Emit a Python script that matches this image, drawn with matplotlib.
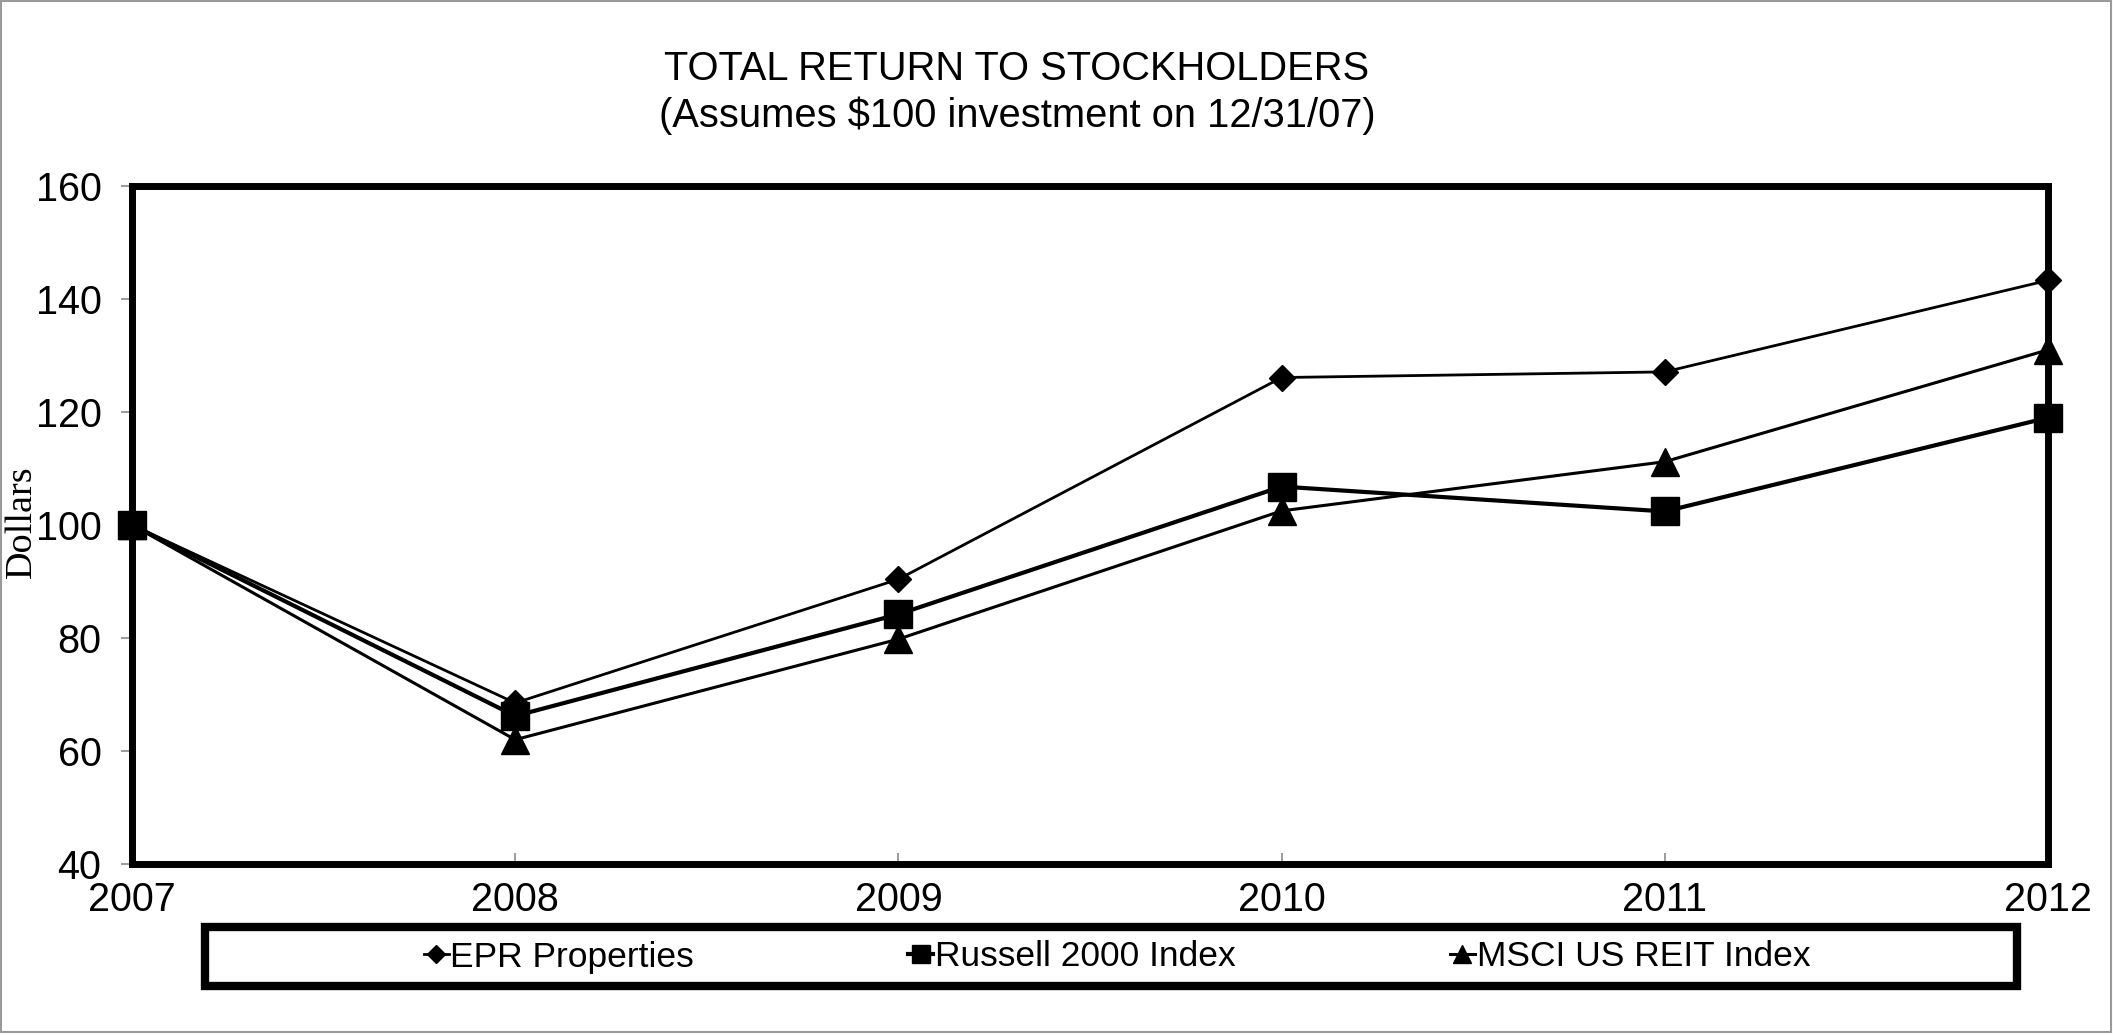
import matplotlib
matplotlib.use("Agg")
import matplotlib.pyplot as plt
from matplotlib.patches import Rectangle

years = [2007, 2008, 2009, 2010, 2011, 2012]
epr = [100.0, 68.5, 90.4, 126.1, 127.1, 143.3]
russell = [100.0, 66.2, 84.2, 106.8, 102.4, 119.0]
msci = [100.0, 62.0, 79.8, 102.5, 111.2, 131.0]
series_names = ["EPR Properties", "Russell 2000 Index", "MSCI US REIT Index"]
yticks = [40, 60, 80, 100, 120, 140, 160]

plt.rcParams['font.family'] = ['Liberation Sans', 'DejaVu Sans']

fig = plt.figure(figsize=(21.13, 10.36), dpi=100)
W, H = 2113, 1036
ax = fig.add_axes([132 / W, 1 - 864 / H, (2048 - 132) / W, (864 - 186) / H])

l1, = ax.plot(years, epr, color='black', lw=2.0, marker='D', ms=13.5,
              label=series_names[0], zorder=4, clip_on=False)
l2, = ax.plot(years, russell, color='black', lw=3.0, marker='s', ms=19.5,
              label=series_names[1], zorder=3, clip_on=False)
l3, = ax.plot(years, msci, color='black', lw=2.2, marker='^', ms=19.5,
              label=series_names[2], zorder=3, clip_on=False)

ax.set_xlim(2007, 2012)
ax.set_ylim(40, 160)
ax.set_yticks(yticks)
ax.set_xticks(years)
ax.tick_params(axis='y', direction='out', length=8, width=1.2, color='#8a8a8a',
               labelsize=28.5, pad=14)
ax.tick_params(axis='x', direction='in', length=8, width=1.2, color='#8a8a8a',
               labelsize=28.5, pad=12)
for s in ax.spines.values():
    s.set_linewidth(5)
    s.set_color('black')
    s.set_zorder(2)

fig.text(22 / W, 1 - 522 / H, "Dollars", rotation=90, ha='center', va='center',
         family=['Liberation Serif', 'DejaVu Serif'], fontsize=27.5)

fig.text(1017 / W, 1 - 69 / H, "TOTAL RETURN TO STOCKHOLDERS", ha='center',
         va='center', fontsize=28.7)
fig.text(1017 / W, 1 - 116 / H, "(Assumes $100 investment on 12/31/07)",
         ha='center', va='center', fontsize=28.7)

# legend box
fig.patches.append(Rectangle((205 / W, 1 - 986 / H), (2017 - 205) / W, (986 - 927) / H,
                             transform=fig.transFigure, fill=False, edgecolor='black',
                             lw=6, zorder=5))
leg = fig.legend(handles=[l1, l2, l3], labels=series_names, loc='center',
                 bbox_to_anchor=(1117 / W, 1 - 957 / H), ncol=3, frameon=False,
                 fontsize=25.5, handlelength=0.7, handletextpad=0.05,
                 columnspacing=6.05, markerscale=0.65)

# outer thin gray border
fig.patches.append(Rectangle((0.0005, 0.004), 0.9985, 0.995, transform=fig.transFigure,
                             fill=False, edgecolor='#999999', lw=1.5))

fig.savefig("out.png", dpi=100)
